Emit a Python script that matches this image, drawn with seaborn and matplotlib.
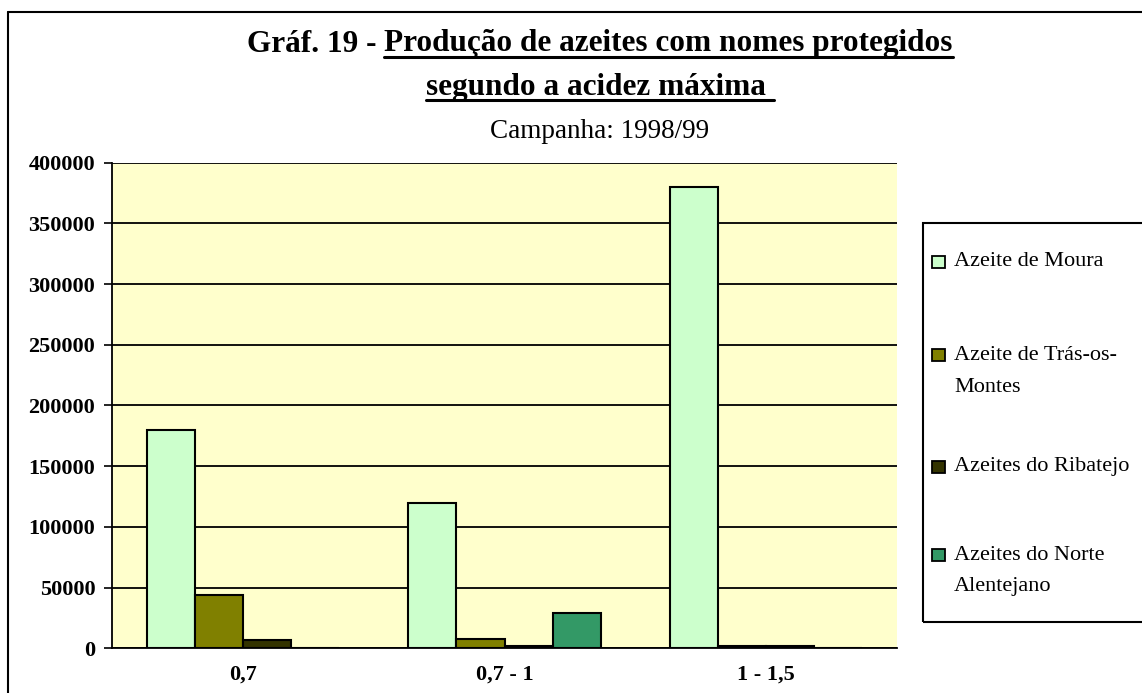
import pandas as pd
import seaborn as sns
import matplotlib.pyplot as plt
from matplotlib.lines import Line2D
from matplotlib.patches import Rectangle

# Data
acidez = ['0,7', '0,7 - 1', '1 - 1,5']
azeites = ['Azeite de Moura', 'Azeite de Trás-os-Montes',
           'Azeites do Ribatejo', 'Azeites do Norte Alentejano']
moura = [180000, 120000, 380000]
tras_os_montes = [44000, 8000, 2000]
ribatejo = [7000, 2000, 1500]
norte_alentejano = [0, 29000, 0]
legend_lines = [['Azeite de Moura'], ['Azeite de Trás-os-', 'Montes'],
                ['Azeites do Ribatejo'], ['Azeites do Norte', 'Alentejano']]
colors = ['#CCFFCC', '#808000', '#333300', '#339966']

rows = []
for name, vals in zip(azeites, [moura, tras_os_montes, ribatejo, norte_alentejano]):
    for cat, v in zip(acidez, vals):
        rows.append({'acidez': cat, 'azeite': name, 'producao': v})
df = pd.DataFrame(rows)

sns.set_style('white')
plt.rcParams['font.family'] = ['Liberation Serif', 'DejaVu Serif']
plt.rcParams['text.color'] = 'black'
plt.rcParams['xtick.color'] = 'black'
plt.rcParams['ytick.color'] = 'black'

W, H = 1142, 693
fig = plt.figure(figsize=(W / 100, H / 100), dpi=100)
ax = fig.add_axes([112 / W, 1 - 648.3 / H, (897 - 112) / W, (648.3 - 162.7) / H])
ax.set_facecolor('#FFFFCC')

sns.barplot(data=df, x='acidez', y='producao', hue='azeite', hue_order=azeites,
            order=acidez, palette=colors, edgecolor='black', linewidth=1.5,
            width=0.735, saturation=1, legend=False, ax=ax)

ax.set_ylim(0, 400000)
ax.set_xlim(-0.5, 2.5)
ax.set_yticks(range(0, 400001, 50000))
ax.set_yticklabels([str(v) for v in range(0, 400001, 50000)],
                   fontsize=16, fontweight='bold')
ax.yaxis.grid(True, color='black', linewidth=1.3)
ax.set_axisbelow(True)
ax.set_xlabel('')
ax.set_ylabel('')
ax.set_xticks([0, 1, 2])
ax.set_xticklabels(acidez, fontsize=16, fontweight='bold')
ax.set_xticks([-0.5, 0.5, 1.5, 2.5], minor=True)
ax.tick_params(axis='x', which='major', length=0, pad=12)
ax.tick_params(axis='x', which='minor', length=6, width=1.2, direction='out')
ax.tick_params(axis='y', length=6, width=1.2, direction='out', left=True, pad=6)
for s in ['top', 'right']:
    ax.spines[s].set_visible(False)
for s in ['left', 'bottom']:
    ax.spines[s].set_color('black')
    ax.spines[s].set_linewidth(1.3)

# legend box, drawn by hand so handles line up with the first text line
fig.patches.append(Rectangle((923 / W, 1 - 622 / H), (1160 - 923) / W, (622 - 223) / H,
                             transform=fig.transFigure, fill=False,
                             edgecolor='black', linewidth=1.5))
line_ys = [[262], [355, 388], [467], [555, 586]]
for col, lines, ys in zip(colors, legend_lines, line_ys):
    fig.patches.append(Rectangle((932 / W, 1 - (ys[0] + 6) / H), 13 / W, 12 / H,
                                 transform=fig.transFigure, facecolor=col,
                                 edgecolor='black', linewidth=1.3))
    for txt, y in zip(lines, ys):
        fig.text(954 / W, 1 - y / H, txt, fontsize=16, va='center', ha='left')

# outer frame (left and top edges visible)
fig.add_artist(Line2D([8 / W, 8 / W], [0, 1 - 12 / H], color='black', linewidth=1.5))
fig.add_artist(Line2D([8 / W, 1], [1 - 12 / H, 1 - 12 / H], color='black', linewidth=1.5))

# title with underlined parts
renderer = fig.canvas.get_renderer()
cx = 600 / W
part_a = fig.text(0, 1 - 44 / H, 'Gráf. 19 - ', fontsize=22.5, fontweight='bold', va='center')
part_b = fig.text(0, 1 - 44 / H, 'Produção de azeites com nomes protegidos',
                  fontsize=22.5, fontweight='bold', va='center')
wa = part_a.get_window_extent(renderer).width / W
wb = part_b.get_window_extent(renderer).width / W
x0 = cx - (wa + wb) / 2
part_a.set_x(x0)
part_b.set_x(x0 + wa)
line2 = fig.text(cx, 1 - 87 / H, 'segundo a acidez máxima ', fontsize=22.5,
                 fontweight='bold', va='center', ha='center')
fig.text(cx, 1 - 131 / H, 'Campanha: 1998/99', fontsize=19.5, va='center', ha='center')

for t in [part_b, line2]:
    bb = t.get_window_extent(renderer)
    yline = (bb.y0 + 2) / H
    fig.add_artist(Line2D([bb.x0 / W, bb.x1 / W], [yline, yline],
                          color='black', linewidth=2.2))

fig.savefig('out.png', dpi=100)
